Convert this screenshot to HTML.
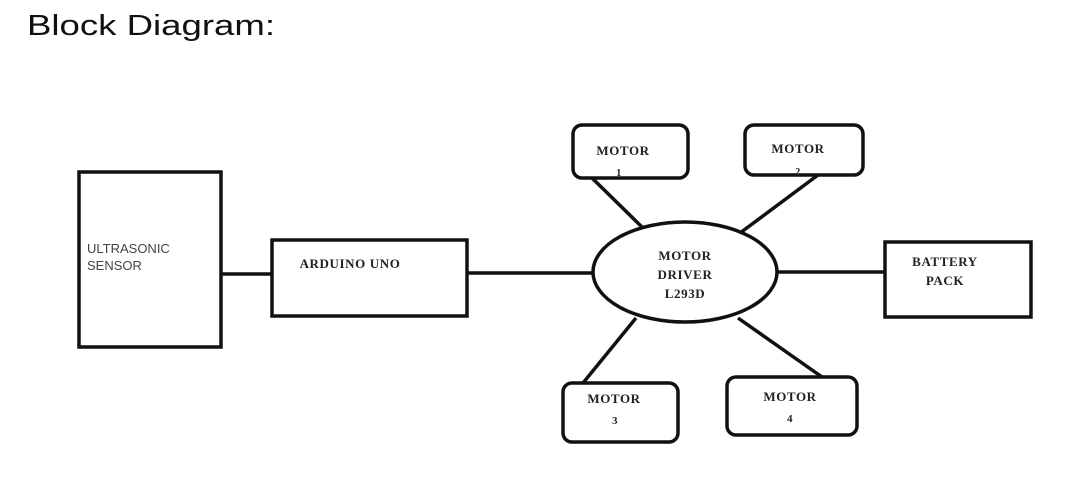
<!DOCTYPE html>
<html><head><meta charset="utf-8"><style>
html,body{margin:0;padding:0;background:#fff;width:1087px;height:493px;overflow:hidden}
</style></head><body>
<svg width="1087" height="493" xmlns="http://www.w3.org/2000/svg" style="position:absolute;left:0;top:0">
<text x="27" y="35" font-family="Liberation Sans, sans-serif" font-size="29" fill="#111" textLength="248" lengthAdjust="spacingAndGlyphs">Block Diagram:</text>
<g stroke="#111" stroke-width="3.5" fill="none">
<rect x="79" y="172" width="142" height="175"/>
<rect x="272" y="240" width="195" height="76"/>
<rect x="885" y="242" width="146" height="75"/>
<ellipse cx="685" cy="272" rx="92" ry="50"/>
<rect x="573" y="125" width="115" height="53" rx="9"/>
<rect x="745" y="125" width="118" height="50" rx="9"/>
<rect x="563" y="383" width="115" height="59" rx="9"/>
<rect x="727" y="377" width="130" height="58" rx="9"/>
<line x1="221" y1="274" x2="272" y2="274"/>
<line x1="467" y1="273" x2="593" y2="273"/>
<line x1="777" y1="272" x2="885" y2="272"/>
<line x1="592" y1="178" x2="642" y2="227"/>
<line x1="818" y1="175" x2="740" y2="233"/>
<line x1="583" y1="383" x2="636" y2="318"/>
<line x1="822" y1="377" x2="738" y2="318"/>
</g>
<g font-family="Liberation Serif, serif" font-weight="bold" font-size="13" fill="#222" text-anchor="middle" letter-spacing="0.6">
<text x="87" y="253" text-anchor="start" font-family="Liberation Sans, sans-serif" font-weight="normal" font-size="13" fill="#444" letter-spacing="0">ULTRASONIC</text>
<text x="87" y="270" text-anchor="start" font-family="Liberation Sans, sans-serif" font-weight="normal" font-size="13" fill="#444" letter-spacing="0">SENSOR</text>
<text x="350" y="268">ARDUINO UNO</text>
<text x="945" y="266">BATTERY</text>
<text x="945" y="285">PACK</text>
<text x="685" y="260">MOTOR</text>
<text x="685" y="279">DRIVER</text>
<text x="685" y="298">L293D</text>
<text x="623" y="155">MOTOR</text>
<text x="619" y="176" font-size="10">1</text>
<text x="798" y="153">MOTOR</text>
<text x="798" y="175" font-size="10">2</text>
<text x="614" y="403">MOTOR</text>
<text x="615" y="424" font-size="11">3</text>
<text x="790" y="401">MOTOR</text>
<text x="790" y="422" font-size="11">4</text>
</g>
</svg>
</body></html>
